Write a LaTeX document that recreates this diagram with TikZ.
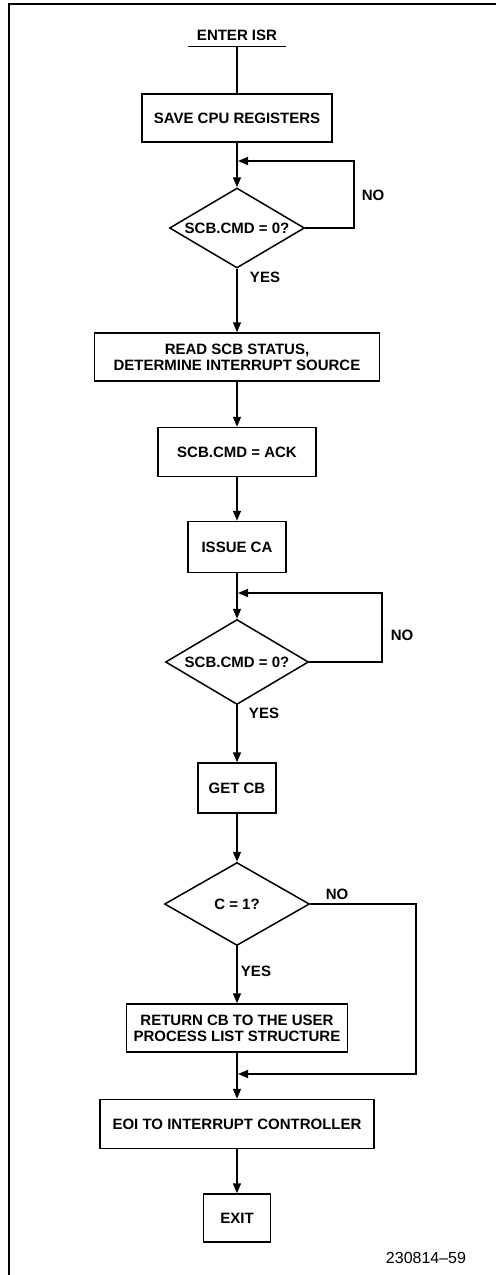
\documentclass[tikz,border=0pt]{standalone}
\usepackage{fontspec}
\setmainfont{Liberation Sans}
\usetikzlibrary{arrows.meta, shapes.geometric, positioning}

\begin{document}
\begin{tikzpicture}[x=1pt, y=-1pt, line width=1.5pt,
  font=\fontsize{15}{16}\selectfont\bfseries]
  \tikzstyle{blk}=[draw, align=center, inner sep=0pt]
  \tikzstyle{dec}=[draw, diamond, aspect=1.7, inner sep=0pt]
  \tikzstyle{lbl}=[inner sep=0pt]
  \tikzstyle{arr}=[-{Triangle[length=10pt, width=8pt]}]

  \useasboundingbox (0,0) rectangle (496,1275);
  % page frame
  \draw[line width=1.6pt] (9,1275) -- (9,4) -- (496,4);

  \node[lbl, minimum width=97pt, inner ysep=5.5pt] (enter) at (237,35) {ENTER ISR};
  \draw (enter.south west) -- (enter.south east);

  \node[blk, minimum width=190pt, minimum height=48pt] (save) at (237,118)
    {SAVE CPU REGISTERS};
  \node[dec, minimum width=135pt, minimum height=80pt] (d1) at (237,228)
    {SCB.CMD = 0?};
  \node[lbl] (no1) at (373,195) {NO};
  \node[lbl] (yes1) at (265,277) {YES};

  \node[blk, minimum width=285pt, minimum height=48pt] (read) at (237,357)
    {READ SCB STATUS,\\DETERMINE INTERRUPT SOURCE};
  \node[blk, minimum width=158pt, minimum height=49pt] (ack) at (237,452)
    {SCB.CMD = ACK};
  \node[blk, minimum width=98pt, minimum height=51pt] (ca) at (237,547)
    {ISSUE CA};

  \node[dec, minimum width=143pt, minimum height=85pt] (d2) at (237,662)
    {SCB.CMD = 0?};
  \node[lbl] (no2) at (402,635) {NO};
  \node[lbl] (yes2) at (264,713) {YES};

  \node[blk, minimum width=78pt, minimum height=50pt] (getcb) at (237,788)
    {GET CB};
  \node[dec, minimum width=145pt, minimum height=83pt] (d3) at (237,904)
    {C = 1?};
  \node[lbl] (no3) at (337,894) {NO};
  \node[lbl] (yes3) at (256,971) {YES};

  \node[blk, minimum width=221pt, minimum height=48pt] (ret) at (237,1028)
    {RETURN CB TO THE USER\\PROCESS LIST STRUCTURE};
  \node[blk, minimum width=274pt, minimum height=49pt] (eoi) at (237,1124)
    {EOI TO INTERRUPT CONTROLLER};
  \node[blk, minimum width=67pt, minimum height=48pt] (exit) at (237,1218)
    {EXIT};

  \node[lbl, font=\fontsize{16}{18}\selectfont] (fig) at (426,1258) {230814--59};

  % loop-back and merge points
  \coordinate (m1) at (237,161);
  \coordinate (r1) at (354,161);
  \coordinate (m2) at (237,593);
  \coordinate (r2) at (382,593);
  \coordinate (m3) at (237,1074);
  \coordinate (r3) at (416,1074);

  \draw (enter.south) -- (save);
  \draw[arr] (save) -- (d1);
  \draw[arr, shorten >=1pt] (d1.east) -| (r1) -- (m1);
  \draw[arr] (d1) -- (read);
  \draw[arr] (read) -- (ack);
  \draw[arr] (ack) -- (ca);
  \draw[arr] (ca) -- (d2);
  \draw[arr, shorten >=1pt] (d2.east) -| (r2) -- (m2);
  \draw[arr] (d2) -- (getcb);
  \draw[arr] (getcb) -- (d3);
  \draw[arr] (d3) -- (ret);
  \draw[arr, shorten >=1pt] (d3.east) -| (r3) -- (m3);
  \draw[arr] (ret) -- (eoi);
  \draw[arr] (eoi) -- (exit);
\end{tikzpicture}
\end{document}
